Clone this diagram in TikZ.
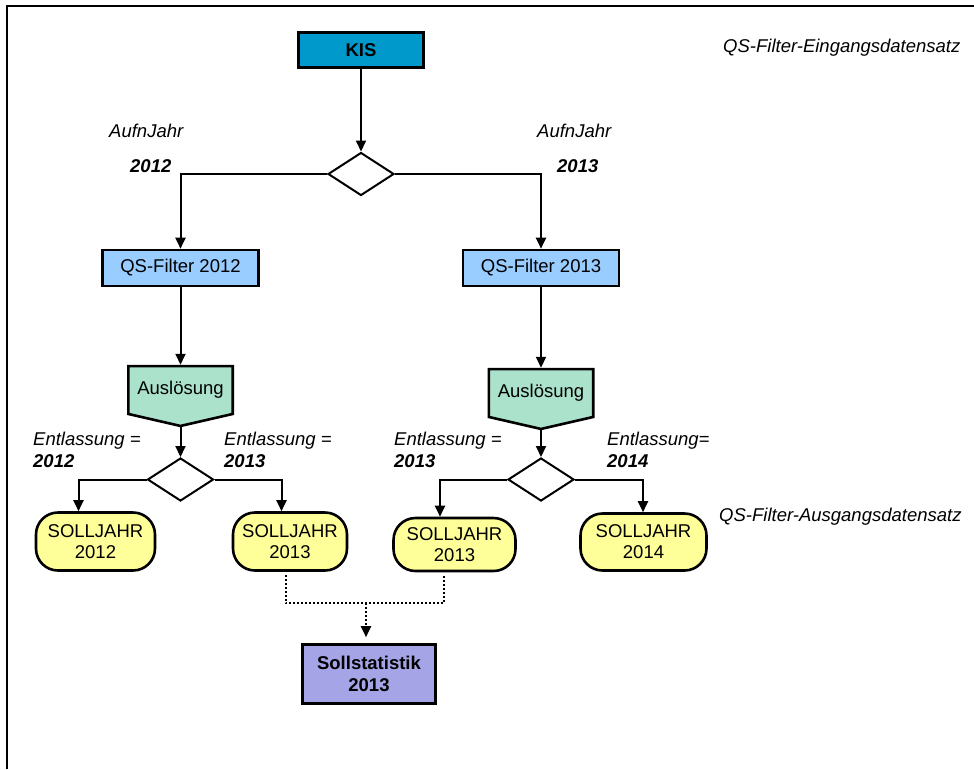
\documentclass[tikz,border=0pt]{standalone}
\usepackage{fontspec}
\setmainfont{Liberation Sans}
\usetikzlibrary{positioning,shapes.geometric,arrows.meta}
\pgfdeclarelayer{hintergrund}
\pgfsetlayers{hintergrund,main}
% Fuenfeck unter einem Knoten (Spitze nach unten)
\newcommand{\ausloesung}[1]{
    \begin{pgfonlayer}{hintergrund}
    \draw[auslrand] (#1.north west) -- (#1.north east) -- (#1.south east) -- ([yshift=-12pt]#1.south) -- (#1.south west) -- cycle;
    \end{pgfonlayer}
}

\begin{document}
\begin{tikzpicture}[x=1pt,y=-1pt,node distance=62pt,font=\fontsize{18.5pt}{21pt}\selectfont,>={Triangle[length=11pt,width=10pt]}]
\definecolor{kisblau}{RGB}{0,153,204}
\definecolor{filterblau}{RGB}{153,204,255}
\definecolor{mintgruen}{RGB}{170,226,204}
\definecolor{sollgelb}{RGB}{255,255,153}
\definecolor{lila}{RGB}{164,164,230}
\tikzstyle{kasten}=[draw=black,rectangle,line width=2.6pt,inner sep=2pt,align=center]
\tikzstyle{raute}=[draw=black,diamond,line width=2pt,inner sep=0pt,minimum width=66pt,minimum height=43pt]
\tikzstyle{ausl}=[rectangle,inner sep=2pt,minimum width=104pt,minimum height=47.5pt]
\tikzstyle{auslrand}=[draw=black,fill=mintgruen,line width=2.6pt,line join=miter]
\tikzstyle{solljahr}=[kasten,fill=sollgelb,rounded corners=22pt,minimum height=58pt]
\tikzstyle{pf}=[->,line width=2pt]
\tikzstyle{notiz}=[font=\fontsize{18.5pt}{21pt}\selectfont\itshape,inner sep=0pt,anchor=base west]
\tikzstyle{jahr}=[notiz,font=\fontsize{18.5pt}{21pt}\selectfont\bfseries\itshape]

\useasboundingbox (0,0) rectangle (974,769);
\draw[line width=2pt] (7,769) -- (7,6) -- (974,6); % Rahmen

\node[kasten,fill=kisblau,font=\fontsize{18.5pt}{21pt}\selectfont\bfseries,minimum width=125pt,minimum height=35pt] (kis) at (361,50) {KIS};
\node[raute,below of=kis,node distance=124pt] (dia1) {};

\node[kasten,fill=filterblau,minimum width=156pt,minimum height=36pt] (qs12) at (180.5,268) {QS-Filter 2012};
\node[kasten,fill=filterblau,minimum width=156pt,minimum height=36pt] (qs13) at (541,268) {QS-Filter 2013};

\node[ausl,below of=qs12,node distance=122pt] (aus12) {Auslösung};
\ausloesung{aus12}
\node[ausl,below of=qs13,node distance=125pt] (aus13) {Auslösung};
\ausloesung{aus13}

\node[raute,below of=aus12,node distance=89.5pt] (dia2) {};
\node[raute,below of=aus13,node distance=86.5pt] (dia3) {};

\node[solljahr,below of=dia2,xshift=-85pt,minimum width=119pt] (soll12) {SOLLJAHR\\2012};
\node[solljahr,below of=dia2,xshift=109.5pt,minimum width=114pt] (soll13a) {SOLLJAHR\\2013};
\node[solljahr,below of=dia3,node distance=65pt,xshift=-86.5pt,minimum width=122pt,minimum height=53pt] (soll13b) {SOLLJAHR\\2013};
\node[solljahr,below of=dia3,node distance=62.5pt,xshift=102.5pt,minimum width=126pt,minimum height=57pt] (soll14) {SOLLJAHR\\2014};

\node[kasten,fill=lila,font=\fontsize{18.5pt}{22pt}\selectfont\bfseries,minimum width=133pt,minimum height=59pt] (sollstat) at (369,674) {Sollstatistik\\2013};
\coordinate (sammel) at (366,603);

% Beschriftungen
\node[notiz] (aufn12) at (109,137) {AufnJahr};
\node[jahr] (jahr12) at (130,172) {2012};
\node[notiz] (aufn13) at (537,137) {AufnJahr};
\node[jahr] (jahr13) at (557,172) {2013};

\node[notiz] (entl1) at (33,445) {Entlassung =};
\node[jahr] (entlj1) at (33,467) {2012};
\node[notiz] (entl2) at (224,445) {Entlassung =};
\node[jahr] (entlj2) at (224,467) {2013};
\node[notiz] (entl3) at (394,445) {Entlassung =};
\node[jahr] (entlj3) at (394,467) {2013};
\node[notiz] (entl4) at (607,445) {Entlassung=};
\node[jahr] (entlj4) at (607,467) {2014};

\node[notiz] (eingang) at (723,52) {QS-Filter-Eingangsdatensatz};
\node[notiz] (ausgang) at (719,521) {QS-Filter-Ausgangsdatensatz};

% Pfeile
\draw[pf] (kis) -- (dia1);
\draw[pf] (dia1.west) -| (qs12.north);
\draw[pf] (dia1.east) -| (qs13.north);
\draw[pf] (qs12) -- ([yshift=1.3pt]aus12.north);
\draw[pf] (qs13) -- ([yshift=1.3pt]aus13.north);
\draw[pf] ([yshift=-13pt]aus12.south) -- (dia2);
\draw[pf] ([yshift=-13pt]aus13.south) -- (dia3);
\draw[pf] (dia2.west) -| ([xshift=-17pt]soll12.north);
\draw[pf] (dia2.east) -| ([xshift=-8.5pt]soll13a.north);
\draw[pf] (dia3.west) -| ([xshift=-14.5pt]soll13b.north);
\draw[pf] (dia3.east) -| ([xshift=-0.5pt]soll14.north);

\draw[line width=2pt,dash pattern=on 2pt off 2pt] ([xshift=-4.5pt,yshift=-3pt]soll13a.south) |- (sammel) -| ([xshift=-10.5pt,yshift=-3pt]soll13b.south);
\draw[pf,dash pattern=on 2pt off 2pt] (sammel) -- ([xshift=-3pt,yshift=6pt]sollstat.north);
\end{tikzpicture}
\end{document}
